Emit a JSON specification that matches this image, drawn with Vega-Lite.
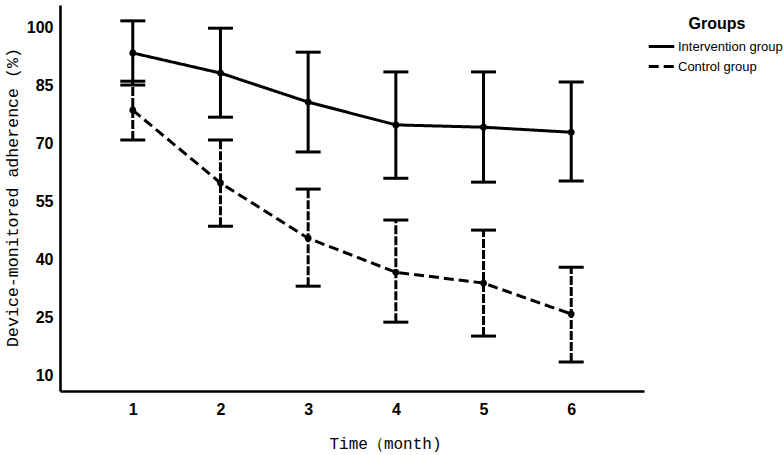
{
  "$schema": "https://vega.github.io/schema/vega-lite/v6.json",
  "width": 584,
  "height": 386,
  "autosize": {"type": "none"},
  "padding": {"left": 60, "top": 5, "right": 139, "bottom": 64},
  "background": "white",
  "config": {
    "view": {"stroke": null},
    "font": "Liberation Sans",
    "axis": {
      "domainColor": "black",
      "domainWidth": 2.6,
      "ticks": false,
      "grid": false,
      "labelFont": "Liberation Sans",
      "labelFontSize": 16,
      "labelFontWeight": "bold",
      "labelColor": "black",
      "titleFont": "Liberation Mono",
      "titleFontSize": 16,
      "titleFontWeight": "normal",
      "titleColor": "black"
    }
  },
  "data": {
    "values": [
      {"group": "Intervention group", "month": 1, "mean": 93.3, "lower": 85.0, "upper": 101.6},
      {"group": "Intervention group", "month": 2, "mean": 88.1, "lower": 76.7, "upper": 99.7},
      {"group": "Intervention group", "month": 3, "mean": 80.6, "lower": 67.7, "upper": 93.5},
      {"group": "Intervention group", "month": 4, "mean": 74.7, "lower": 60.9, "upper": 88.4},
      {"group": "Intervention group", "month": 5, "mean": 74.1, "lower": 59.9, "upper": 88.4},
      {"group": "Intervention group", "month": 6, "mean": 72.8, "lower": 60.2, "upper": 85.8},
      {"group": "Control group", "month": 1, "mean": 78.5, "lower": 70.8, "upper": 86.0},
      {"group": "Control group", "month": 2, "mean": 59.7, "lower": 48.5, "upper": 70.8},
      {"group": "Control group", "month": 3, "mean": 45.4, "lower": 33.0, "upper": 58.1},
      {"group": "Control group", "month": 4, "mean": 36.6, "lower": 23.7, "upper": 50.1},
      {"group": "Control group", "month": 5, "mean": 33.8, "lower": 20.1, "upper": 47.5},
      {"group": "Control group", "month": 6, "mean": 25.8, "lower": 13.4, "upper": 37.9}
    ]
  },
  "encoding": {
    "x": {
      "field": "month",
      "type": "quantitative",
      "scale": {"domain": [0.17, 6.83], "nice": false, "zero": false},
      "axis": {
        "values": [1, 2, 3, 4, 5, 6],
        "labelPadding": 10,
        "title": "Time（month)",
        "titleX": 325,
        "titleY": 52,
        "titleBaseline": "middle",
        "titleAnchor": null
      }
    }
  },
  "layer": [
    {
      "mark": {"type": "rule", "strokeWidth": 3, "color": "black"},
      "encoding": {
        "y": {
          "field": "lower",
          "type": "quantitative",
          "scale": {"domain": [5.9, 105.7], "nice": false, "zero": false},
          "axis": {
            "values": [10, 25, 40, 55, 70, 85, 100],
            "labelPadding": 7,
            "title": "Device-monitored adherence (%)",
            "titleFontSize": 16.6,
            "titleX": -48,
            "titleY": 192,
            "titleAngle": 270,
            "titleBaseline": "middle"
          }
        },
        "y2": {"field": "upper"},
        "strokeDash": {
          "field": "group",
          "type": "nominal",
          "scale": {"domain": ["Intervention group", "Control group"], "range": [[1, 0], [9, 2]]},
          "legend": null
        }
      }
    },
    {
      "mark": {"type": "tick", "orient": "horizontal", "size": 25, "thickness": 3, "color": "black", "opacity": 1},
      "encoding": {"y": {"field": "upper", "type": "quantitative"}}
    },
    {
      "mark": {"type": "tick", "orient": "horizontal", "size": 25, "thickness": 3, "color": "black", "opacity": 1},
      "encoding": {"y": {"field": "lower", "type": "quantitative"}}
    },
    {
      "mark": {"type": "line", "strokeWidth": 3, "color": "black"},
      "encoding": {
        "y": {"field": "mean", "type": "quantitative"},
        "strokeDash": {
          "field": "group",
          "type": "nominal",
          "scale": {"domain": ["Intervention group", "Control group"], "range": [[1, 0], [10, 5]]},
          "legend": {
            "title": "Groups",
            "orient": "none",
            "legendX": 592,
            "legendY": 11,
            "symbolType": "M-1.6,0H1.6",
            "symbolStrokeWidth": 3,
            "symbolStrokeColor": "black",
            "symbolSize": 256,
            "titleFont": "Liberation Sans",
            "titleFontSize": 16,
            "titleFontWeight": "bold",
            "titleColor": "black",
            "titleAnchor": "middle",
            "titleAlign": "center",
            "titlePadding": 5,
            "labelFont": "Liberation Sans",
            "labelFontSize": 13,
            "labelColor": "black",
            "labelOffset": 7,
            "rowPadding": 3
          }
        }
      }
    },
    {
      "mark": {"type": "point", "filled": true, "size": 45, "color": "black", "opacity": 1},
      "encoding": {"y": {"field": "mean", "type": "quantitative"}}
    }
  ],
  "resolve": {"scale": {"strokeDash": "independent"}, "legend": {"strokeDash": "independent"}}
}
